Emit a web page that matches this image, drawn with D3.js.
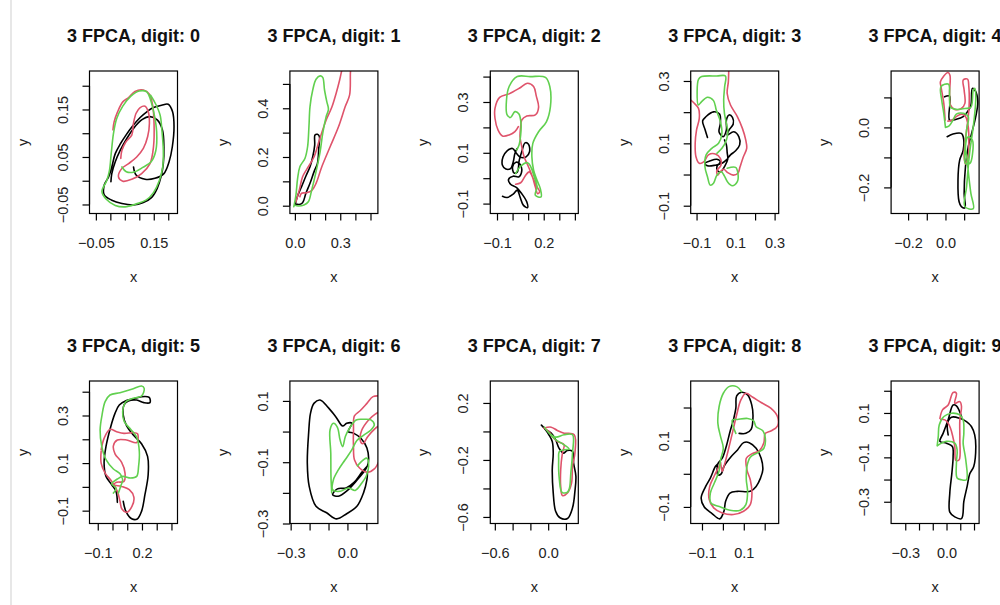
<!DOCTYPE html>
<html><head><meta charset="utf-8">
<script src="https://cdn.jsdelivr.net/npm/d3@7"></script>
<style>body{margin:0;background:#fff}svg{display:block}</style>
</head><body>
<svg id="c" width="1000" height="605"></svg>
<script>
const digits = [0,1,2,3,4,5,6,7,8,9];
const xLim = [[-0.072,0.232],[-0.033,0.549],[-0.143,0.422],[-0.130,0.321],[-0.291,0.180],[-0.156,0.441],[-0.304,0.161],[-0.651,0.339],[-0.154,0.267],[-0.403,0.237]];
const yLim = [[-0.069,0.231],[-0.032,0.553],[-0.139,0.422],[-0.125,0.332],[-0.287,0.188],[-0.154,0.445],[-0.300,0.165],[-0.646,0.354],[-0.150,0.280],[-0.398,0.244]];
const xTicks = [[-0.05,0,0.05,0.1,0.15,0.2],[0,0.1,0.2,0.3,0.4,0.5],[-0.1,0,0.1,0.2,0.3,0.4],[-0.1,0,0.1,0.2,0.3],[-0.2,-0.1,0,0.1],[-0.1,0,0.1,0.2,0.3,0.4],[-0.3,-0.2,-0.1,0,0.1],[-0.6,-0.4,-0.2,0,0.2],[-0.1,0,0.1,0.2],[-0.3,-0.2,-0.1,0,0.1,0.2]];
const xLabels = [[-0.05,0.15],[0,0.3],[-0.1,0.2],[-0.1,0.1,0.3],[-0.2,0],[-0.1,0.2],[-0.3,0],[-0.6,0],[-0.1,0.1],[-0.3,0]];
const yTicks = [[-0.05,0,0.05,0.1,0.15,0.2],[0,0.1,0.2,0.3,0.4,0.5],[-0.1,0,0.1,0.2,0.3,0.4],[-0.1,0,0.1,0.2,0.3],[-0.2,-0.1,0,0.1],[-0.1,0,0.1,0.2,0.3,0.4],[-0.3,-0.2,-0.1,0,0.1],[-0.6,-0.4,-0.2,0,0.2],[-0.1,0,0.1,0.2],[-0.3,-0.2,-0.1,0,0.1,0.2]];
const yLabels = [[-0.05,0.05,0.15],[0,0.2,0.4],[-0.1,0.1,0.3],[-0.1,0.1,0.3],[-0.2,0],[-0.1,0.1,0.3],[-0.3,-0.1,0.1],[-0.6,-0.2,0.2],[-0.1,0.1],[-0.3,-0.1,0.1]];
const decimals = [2,1,1,1,1,1,1,1,1,1];

const black = [
 [[0.080,0.029],[0.089,0.012],[0.120,0.003],[0.154,0.005],[0.185,0.015],[0.203,0.040],[0.214,0.071],[0.220,0.114],[0.215,0.145],[0.200,0.161],[0.177,0.159],[0.149,0.154],[0.126,0.145],[0.103,0.133],[0.077,0.115],[0.054,0.096],[0.034,0.077],[0.017,0.057],[0.005,0.029],[-0.006,0.008],[-0.021,-0.009],[-0.021,-0.030],[0.005,-0.041],[0.040,-0.048],[0.080,-0.051],[0.114,-0.046],[0.143,-0.035],[0.162,-0.016],[0.175,0.008],[0.183,0.036],[0.185,0.071],[0.180,0.107],[0.162,0.128],[0.137,0.135],[0.108,0.128],[0.080,0.110],[0.057,0.089],[0.034,0.064],[0.017,0.040],[0.005,0.015],[0.002,-0.002]],
 [[0.002,0.005],[0.016,0.037],[0.044,0.078],[0.073,0.122],[0.100,0.160],[0.118,0.201],[0.131,0.249],[0.133,0.290],[0.149,0.293],[0.162,0.284],[0.158,0.236],[0.149,0.174],[0.127,0.140],[0.100,0.092],[0.073,0.051],[0.051,0.012],[0.029,0.005],[0.007,0.007]],
 [[-0.065,-0.071],[-0.035,-0.076],[0.004,-0.063],[0.030,-0.047],[0.048,-0.074],[0.070,-0.107],[0.096,-0.116],[0.091,-0.093],[0.059,-0.061],[0.026,-0.037],[-0.013,-0.024],[-0.026,-0.005],[0.004,0.008],[0.039,0.005],[0.059,0.029],[0.048,0.055],[0.022,0.063],[0.000,0.045],[0.009,0.021],[0.030,0.024],[0.043,0.071],[0.059,0.104],[0.080,0.139],[0.102,0.134],[0.109,0.104],[0.087,0.084],[0.052,0.082],[0.026,0.097],[0.000,0.117],[-0.035,0.108],[-0.061,0.084],[-0.065,0.051],[-0.043,0.036],[-0.013,0.038],[0.004,0.064],[0.015,0.097],[0.030,0.117]],
 [[-0.044,0.119],[-0.057,0.145],[-0.069,0.172],[-0.051,0.186],[-0.013,0.201],[0.018,0.194],[0.022,0.164],[0.015,0.137],[0.036,0.121],[0.053,0.143],[0.053,0.175],[0.067,0.191],[0.084,0.183],[0.088,0.162],[0.067,0.143],[0.057,0.127],[0.091,0.137],[0.117,0.121],[0.121,0.095],[0.100,0.076],[0.074,0.063],[0.053,0.047],[0.030,0.036],[-0.004,0.030],[-0.044,0.028],[-0.057,0.036],[-0.030,0.044],[0.004,0.049],[0.022,0.041],[0.004,0.025],[0.008,0.012],[0.025,0.009],[0.043,0.025],[0.060,0.049],[0.057,0.070],[0.053,0.095],[0.043,0.111]],
 [[-0.005,0.102],[0.022,0.104],[0.022,0.024],[0.058,0.027],[0.095,0.036],[0.118,0.052],[0.136,0.074],[0.144,0.130],[0.158,0.124],[0.173,0.086],[0.162,0.036],[0.140,-0.020],[0.122,-0.064],[0.107,-0.131],[0.100,-0.220],[0.104,-0.268],[0.085,-0.264],[0.073,-0.248],[0.067,-0.176],[0.076,-0.109],[0.095,-0.076],[0.095,-0.031],[0.085,-0.020],[0.040,-0.022],[0.009,-0.031]],
 [[0.073,-0.061],[0.091,-0.103],[0.130,-0.134],[0.168,-0.135],[0.197,-0.103],[0.220,-0.033],[0.242,0.051],[0.238,0.128],[0.197,0.181],[0.141,0.218],[0.096,0.256],[0.073,0.302],[0.078,0.344],[0.107,0.361],[0.164,0.365],[0.213,0.354],[0.254,0.354],[0.249,0.376],[0.197,0.379],[0.136,0.369],[0.091,0.362],[0.046,0.344],[0.017,0.309],[-0.012,0.253],[-0.044,0.170],[-0.057,0.100],[-0.044,0.044],[-0.005,0.009],[0.024,-0.019],[0.033,-0.065]],
 [[0.103,-0.114],[0.076,-0.133],[0.035,-0.166],[-0.007,-0.184],[-0.053,-0.187],[-0.078,-0.206],[-0.048,-0.211],[0.000,-0.192],[0.050,-0.159],[0.094,-0.125],[0.110,-0.103],[0.103,-0.054],[0.071,-0.022],[0.032,-0.005],[0.005,0.000],[0.023,0.027],[-0.004,0.027],[-0.025,0.018],[-0.060,0.047],[-0.101,0.078],[-0.145,0.103],[-0.177,0.092],[-0.195,0.060],[-0.205,-0.005],[-0.212,-0.103],[-0.202,-0.179],[-0.166,-0.244],[-0.110,-0.265],[-0.057,-0.285],[-0.004,-0.268],[0.050,-0.244],[0.085,-0.200],[0.103,-0.157],[0.106,-0.130]],
 [[-0.076,0.044],[-0.030,0.012],[0.008,-0.023],[0.046,-0.070],[0.057,-0.152],[0.046,-0.268],[0.057,-0.431],[0.084,-0.560],[0.133,-0.606],[0.217,-0.611],[0.274,-0.536],[0.301,-0.420],[0.312,-0.315],[0.286,-0.222],[0.274,-0.140],[0.217,-0.133],[0.171,-0.152],[0.122,-0.117],[0.084,-0.058],[0.034,-0.012],[-0.030,0.012]],
 [[0.078,0.122],[0.110,0.122],[0.135,0.134],[0.144,0.173],[0.138,0.208],[0.118,0.238],[0.089,0.246],[0.066,0.235],[0.062,0.198],[0.050,0.162],[0.034,0.127],[0.018,0.087],[-0.003,0.047],[-0.024,0.030],[-0.024,-0.003],[-0.008,0.000],[0.005,0.022],[0.037,0.050],[0.070,0.072],[0.099,0.094],[0.126,0.094],[0.159,0.077],[0.183,0.047],[0.191,0.012],[0.180,-0.013],[0.159,-0.038],[0.131,-0.053],[0.070,-0.053],[0.034,-0.058],[0.013,-0.083],[0.005,-0.113],[-0.015,-0.136],[-0.052,-0.120],[-0.089,-0.100],[-0.104,-0.073],[-0.084,-0.040],[-0.060,-0.013],[-0.036,0.022],[-0.024,0.030]],
 [[0.012,0.001],[0.007,0.054],[0.036,0.081],[0.097,0.076],[0.145,0.061],[0.181,0.039],[0.205,0.001],[0.213,-0.051],[0.198,-0.141],[0.169,-0.174],[0.150,-0.231],[0.126,-0.298],[0.109,-0.376],[0.060,-0.368],[0.024,-0.347],[0.024,-0.260],[0.039,-0.171],[0.048,-0.096],[0.043,-0.051],[0.000,-0.036],[-0.048,-0.028],[-0.024,0.009],[0.012,0.069],[0.048,0.136],[0.072,0.132],[0.109,0.084]]
];
const red = [
 [[0.036,0.047],[0.040,0.064],[0.054,0.082],[0.074,0.096],[0.080,0.121],[0.089,0.142],[0.103,0.154],[0.120,0.157],[0.131,0.145],[0.135,0.121],[0.129,0.093],[0.114,0.068],[0.091,0.050],[0.063,0.036],[0.040,0.026],[0.028,0.008],[0.043,-0.001],[0.074,0.003],[0.108,0.015],[0.137,0.036],[0.149,0.071],[0.151,0.121],[0.146,0.159],[0.135,0.182],[0.114,0.191],[0.085,0.188],[0.063,0.175],[0.043,0.166],[0.025,0.145],[0.013,0.124],[0.009,0.107]],
 [[0.007,0.016],[0.029,0.064],[0.051,0.119],[0.082,0.153],[0.127,0.201],[0.162,0.270],[0.207,0.352],[0.244,0.404],[0.273,0.462],[0.296,0.516],[0.313,0.564],[0.327,0.599],[0.371,0.599],[0.367,0.544],[0.362,0.455],[0.333,0.407],[0.289,0.325],[0.233,0.242],[0.178,0.160],[0.140,0.092],[0.111,0.062],[0.078,0.053],[0.044,0.051],[0.033,0.037]],
 [[0.020,-0.024],[0.052,-0.018],[0.080,0.008],[0.107,0.025],[0.135,-0.005],[0.157,-0.034],[0.174,-0.054],[0.161,-0.061],[0.146,-0.034],[0.128,0.005],[0.102,0.045],[0.074,0.084],[0.059,0.124],[0.048,0.163],[0.052,0.203],[0.059,0.229],[0.091,0.245],[0.146,0.249],[0.167,0.279],[0.152,0.324],[0.135,0.361],[0.096,0.374],[0.043,0.354],[-0.022,0.332],[-0.083,0.318],[-0.113,0.275],[-0.113,0.236],[-0.093,0.189],[-0.065,0.166],[-0.022,0.170],[0.015,0.183],[0.037,0.203]],
 [[0.065,0.335],[0.063,0.298],[0.057,0.260],[0.074,0.223],[0.109,0.186],[0.135,0.148],[0.152,0.111],[0.157,0.084],[0.140,0.057],[0.123,0.025],[0.112,0.004],[0.088,-0.002],[0.060,0.006],[0.039,0.017],[0.022,0.009],[0.008,-0.002],[0.004,0.012],[0.025,0.030],[0.022,0.052],[-0.004,0.066],[-0.039,0.063],[-0.062,0.041],[-0.086,0.036],[-0.103,0.057],[-0.107,0.100],[-0.100,0.143],[-0.086,0.180],[-0.090,0.212],[-0.114,0.230],[-0.130,0.239]],
 [[-0.002,0.024],[-0.009,0.080],[-0.024,0.136],[-0.027,0.152],[0.013,0.183],[0.024,0.174],[0.022,0.113],[0.027,0.074],[0.049,0.060],[0.085,0.063],[0.104,0.080],[0.100,0.124],[0.095,0.158],[0.118,0.161],[0.125,0.136],[0.127,0.080],[0.122,0.036],[0.113,-0.009],[0.104,-0.053],[0.100,-0.098],[0.107,-0.122],[0.122,-0.098],[0.125,-0.053],[0.122,0.002],[0.107,0.036],[0.085,0.044],[0.058,0.036],[0.035,0.024],[0.013,0.021]],
 [[-0.077,0.156],[-0.057,0.204],[-0.017,0.242],[0.028,0.232],[0.078,0.225],[0.141,0.228],[0.170,0.223],[0.164,0.186],[0.096,0.197],[0.033,0.197],[0.006,0.172],[0.017,0.139],[0.062,0.103],[0.085,0.058],[0.078,0.023],[0.028,0.019],[0.010,0.009],[0.062,0.002],[0.114,-0.012],[0.145,-0.043],[0.132,-0.082],[0.096,-0.107],[0.064,-0.093],[0.051,-0.061],[0.033,-0.019],[-0.005,0.023],[-0.050,0.058],[-0.077,0.100],[-0.077,0.149]],
 [[0.173,0.116],[0.135,0.114],[0.103,0.092],[0.067,0.068],[0.037,0.051],[0.032,0.005],[0.032,-0.049],[0.037,-0.092],[0.064,-0.119],[0.106,-0.133],[0.142,-0.122],[0.170,-0.092],[0.191,-0.049],[0.170,0.018],[0.138,0.005],[0.108,-0.016],[0.081,-0.040],[0.067,-0.027],[0.076,0.005],[0.112,0.038],[0.147,0.057],[0.182,0.068]],
 [[-0.050,0.023],[0.034,0.030],[0.103,0.007],[0.179,-0.012],[0.293,-0.023],[0.301,-0.152],[0.274,-0.245],[0.263,-0.362],[0.217,-0.431],[0.160,-0.450],[0.141,-0.385],[0.141,-0.268],[0.160,-0.152],[0.179,-0.093],[0.103,-0.070],[0.046,-0.035],[0.008,0.000],[-0.030,0.016]],
 [[-0.011,0.034],[-0.003,0.007],[0.005,0.022],[0.024,0.067],[0.045,0.122],[0.066,0.178],[0.086,0.223],[0.110,0.243],[0.143,0.231],[0.183,0.215],[0.229,0.198],[0.261,0.173],[0.261,0.144],[0.232,0.130],[0.203,0.122],[0.196,0.094],[0.175,0.070],[0.138,0.060],[0.112,0.047],[0.115,0.012],[0.131,-0.018],[0.139,-0.058],[0.131,-0.093],[0.099,-0.113],[0.050,-0.123],[-0.003,-0.118],[-0.044,-0.103],[-0.066,-0.076],[-0.063,-0.038],[-0.041,-0.006],[-0.019,0.022],[-0.011,0.034]],
 [[-0.048,0.076],[-0.029,0.114],[0.012,0.136],[0.048,0.192],[0.072,0.189],[0.060,0.144],[0.097,0.151],[0.109,0.129],[0.097,0.069],[0.097,-0.021],[0.092,-0.111],[0.068,-0.114],[0.060,-0.051],[0.043,0.001],[0.029,0.031],[0.012,0.054],[-0.012,0.069],[-0.043,0.072]]
];
const green = [
 [[0.040,0.029],[0.055,0.019],[0.080,0.018],[0.112,0.028],[0.141,0.040],[0.157,0.063],[0.160,0.103],[0.152,0.138],[0.139,0.170],[0.126,0.187],[0.100,0.189],[0.071,0.178],[0.043,0.157],[0.022,0.131],[0.011,0.100],[0.003,0.057],[-0.003,0.022],[-0.012,0.001],[-0.029,-0.023],[-0.014,-0.039],[0.017,-0.052],[0.051,-0.055],[0.089,-0.049],[0.123,-0.041],[0.149,-0.025],[0.169,0.000],[0.181,0.029],[0.183,0.064],[0.178,0.107],[0.172,0.138],[0.157,0.161],[0.139,0.180]],
 [[-0.007,-0.004],[0.007,0.044],[0.018,0.112],[0.033,0.160],[0.067,0.195],[0.084,0.242],[0.093,0.325],[0.100,0.407],[0.118,0.475],[0.140,0.519],[0.167,0.533],[0.184,0.527],[0.196,0.475],[0.211,0.427],[0.222,0.396],[0.207,0.366],[0.184,0.297],[0.167,0.222],[0.140,0.140],[0.111,0.064],[0.089,0.016],[0.060,0.003],[0.022,-0.001],[-0.002,0.003]],
 [[0.020,0.018],[0.048,0.045],[0.096,0.061],[0.117,0.045],[0.139,0.005],[0.157,-0.034],[0.146,-0.067],[0.183,-0.074],[0.178,-0.041],[0.157,-0.008],[0.135,0.032],[0.124,0.084],[0.130,0.137],[0.167,0.183],[0.217,0.222],[0.243,0.282],[0.239,0.361],[0.211,0.397],[0.113,0.400],[0.030,0.400],[-0.022,0.361],[-0.039,0.308],[-0.035,0.249],[-0.013,0.239],[0.015,0.262],[0.041,0.253],[0.054,0.216],[0.052,0.170],[0.041,0.130],[0.026,0.111]],
 [[0.057,0.020],[0.100,0.023],[0.112,0.004],[0.109,-0.023],[0.083,-0.036],[0.060,-0.025],[0.043,-0.005],[0.027,0.009],[0.004,-0.002],[-0.013,-0.028],[-0.030,-0.034],[-0.044,-0.007],[-0.057,0.025],[-0.051,0.063],[-0.022,0.084],[0.013,0.100],[0.030,0.132],[0.022,0.170],[0.001,0.207],[-0.013,0.237],[-0.044,0.248],[-0.074,0.234],[-0.091,0.223],[-0.097,0.266],[-0.090,0.305],[-0.074,0.314],[0.004,0.316],[0.048,0.316],[0.044,0.282],[0.039,0.239],[0.043,0.196],[0.053,0.164],[0.060,0.137],[0.053,0.111],[0.030,0.084],[0.004,0.068]],
 [[0.000,0.000],[-0.009,0.047],[-0.020,0.091],[-0.024,0.136],[0.016,0.144],[0.022,0.102],[0.027,0.067],[0.058,0.060],[0.104,0.063],[0.136,0.067],[0.149,0.124],[0.158,0.130],[0.162,0.091],[0.155,0.036],[0.144,-0.020],[0.131,-0.076],[0.122,-0.131],[0.113,-0.198],[0.104,-0.264],[0.149,-0.271],[0.136,-0.220],[0.125,-0.164],[0.116,-0.109],[0.107,-0.064],[0.122,-0.031],[0.144,-0.042],[0.145,-0.087],[0.131,-0.120],[0.107,-0.120],[0.104,-0.076],[0.113,-0.009],[0.122,0.036],[0.095,0.047],[0.058,0.044],[0.040,0.024],[0.018,0.004],[0.000,0.000]],
 [[0.006,-0.026],[0.024,-0.005],[-0.005,0.013],[0.033,0.033],[0.069,0.044],[0.123,0.037],[0.164,0.044],[0.177,0.086],[0.182,0.149],[0.164,0.209],[0.123,0.242],[0.080,0.274],[0.069,0.316],[0.091,0.358],[0.141,0.372],[0.197,0.382],[0.215,0.414],[0.197,0.424],[0.130,0.410],[0.051,0.396],[-0.017,0.386],[-0.050,0.358],[-0.071,0.302],[-0.084,0.239],[-0.073,0.170],[-0.044,0.114],[0.006,0.075],[0.051,0.055],[0.069,0.030],[0.055,0.002],[0.040,-0.026]],
 [[-0.083,-0.200],[-0.087,-0.146],[-0.088,-0.070],[-0.092,0.005],[-0.074,0.027],[-0.053,0.014],[-0.039,-0.027],[-0.025,-0.049],[-0.011,-0.016],[0.011,0.011],[0.046,0.038],[0.085,0.040],[0.124,0.038],[0.142,0.022],[0.124,0.005],[0.088,-0.011],[0.050,-0.029],[0.023,-0.060],[-0.012,-0.092],[-0.048,-0.125],[-0.074,-0.157],[-0.078,-0.190],[-0.039,-0.195],[0.005,-0.184],[0.041,-0.192],[0.076,-0.168],[0.099,-0.146],[0.112,-0.114],[0.103,-0.087],[0.085,-0.092],[0.053,-0.112]],
 [[-0.042,0.030],[0.011,-0.012],[0.084,-0.040],[0.179,-0.023],[0.274,-0.023],[0.274,-0.152],[0.255,-0.292],[0.240,-0.397],[0.217,-0.427],[0.156,-0.427],[0.126,-0.338],[0.118,-0.198],[0.126,-0.140],[0.187,-0.128],[0.236,-0.124],[0.160,-0.086],[0.084,-0.058],[0.027,-0.023]],
 [[0.062,0.122],[0.045,0.162],[0.070,0.164],[0.118,0.167],[0.147,0.160],[0.159,0.142],[0.191,0.130],[0.203,0.107],[0.196,0.077],[0.167,0.064],[0.131,0.050],[0.115,0.022],[0.112,-0.018],[0.118,-0.053],[0.110,-0.093],[0.083,-0.110],[0.034,-0.110],[-0.011,-0.100],[-0.057,-0.088],[-0.060,-0.058],[-0.041,-0.028],[-0.019,0.007],[-0.011,0.042],[0.002,0.077],[-0.011,0.112],[-0.024,0.152],[-0.018,0.203],[0.002,0.243],[0.029,0.263],[0.066,0.263],[0.089,0.248]],
 [[-0.068,-0.048],[-0.060,-0.006],[-0.053,0.046],[-0.019,0.084],[0.036,0.099],[0.097,0.091],[0.121,0.069],[0.126,0.009],[0.121,-0.036],[0.140,-0.111],[0.145,-0.201],[0.109,-0.201],[0.077,-0.193],[0.072,-0.126],[0.077,-0.066],[0.060,-0.036],[0.000,-0.028],[-0.036,-0.036],[-0.068,-0.048]]
];
const seriesColors = ["#000000", "#DF536B", "#61D04F"];

const svg = d3.select("#c");
const FONT = "'Liberation Sans', Arial, Helvetica, sans-serif";
svg.append("line").attr("x1",11).attr("x2",11).attr("y1",0).attr("y2",605)
  .attr("stroke","#cfcfcf").attr("stroke-width",1);

const boxW = 88, boxH = 142.5;
const rowTop = [71, 381];
const colLeft = c => 89.5 + 200.4 * c;
const tickFont = 14.5;

digits.forEach((d, i) => {
  const r = Math.floor(i / 5), c = i % 5;
  const L = colLeft(c), T = rowTop[r];
  const x = d3.scaleLinear().domain(xLim[i]).range([L, L + boxW]);
  const y = d3.scaleLinear().domain(yLim[i]).range([T + boxH, T]);
  const g = svg.append("g");
  const fmt = d3.format("." + decimals[i] + "f");

  const clipId = "clip" + i;
  svg.append("clipPath").attr("id", clipId).append("rect")
    .attr("x", L).attr("y", T).attr("width", boxW).attr("height", boxH);

  const line = d3.line().x(p => x(p[0])).y(p => y(p[1])).curve(d3.curveCatmullRom.alpha(0.5));
  const cg = g.append("g").attr("clip-path", `url(#${clipId})`);
  [black[i], red[i], green[i]].forEach((pts, k) => {
    cg.append("path").attr("d", line(pts)).attr("fill", "none")
      .attr("stroke", seriesColors[k]).attr("stroke-width", 1.6)
      .attr("stroke-linejoin", "round").attr("stroke-linecap", "round");
  });

  g.append("rect").attr("x", L).attr("y", T).attr("width", boxW).attr("height", boxH)
    .attr("fill", "none").attr("stroke", "#000").attr("stroke-width", 1.2);

  // x axis
  const xa = g.append("g").attr("transform", `translate(0,${T + boxH})`)
    .call(d3.axisBottom(x).tickValues(xTicks[i]).tickSize(7).tickPadding(17)
      .tickFormat(v => xLabels[i].some(l => Math.abs(l - v) < 1e-9) ? fmt(v) : ""));
  xa.select(".domain").remove();
  const xt = xTicks[i];
  xa.append("line").attr("x1", x(xt[0])).attr("x2", x(xt[xt.length - 1])).attr("stroke", "#000").attr("stroke-width", 1.2);
  xa.selectAll(".tick line").attr("stroke-width", 1.2);
  xa.selectAll("text").attr("font-family", FONT).attr("font-size", tickFont).attr("fill", "#222");

  // y axis
  const ya = g.append("g").attr("transform", `translate(${L},0)`)
    .call(d3.axisLeft(y).tickValues(yTicks[i]).tickSize(7)
      .tickFormat(v => yLabels[i].some(l => Math.abs(l - v) < 1e-9) ? fmt(v) : ""));
  ya.select(".domain").remove();
  const yt = yTicks[i];
  ya.append("line").attr("y1", y(yt[0])).attr("y2", y(yt[yt.length - 1])).attr("stroke", "#000").attr("stroke-width", 1.2);
  ya.selectAll(".tick line").attr("stroke-width", 1.2);
  ya.selectAll("text").attr("x", 0).attr("y", 0).attr("dy", 0)
    .attr("transform", "translate(-22,0) rotate(-90)")
    .attr("text-anchor", "middle")
    .attr("font-family", FONT).attr("font-size", tickFont).attr("fill", "#222");

  // title
  g.append("text").attr("x", L + boxW / 2).attr("y", T - 29.5).attr("text-anchor", "middle")
    .attr("font-family", FONT).attr("font-weight", "bold").attr("font-size", 18)
    .attr("fill", "#111").text(`3 FPCA, digit: ${d}`);
  // axis titles
  g.append("text").attr("x", L + boxW / 2).attr("y", T + boxH + 68.5).attr("text-anchor", "middle")
    .attr("font-family", FONT).attr("font-size", tickFont).attr("fill", "#222").text("x");
  g.append("text").attr("transform", `translate(${L - 62},${T + boxH / 2}) rotate(-90)`)
    .attr("text-anchor", "middle")
    .attr("font-family", FONT).attr("font-size", tickFont).attr("fill", "#222").text("y");
});
</script>
</body></html>
